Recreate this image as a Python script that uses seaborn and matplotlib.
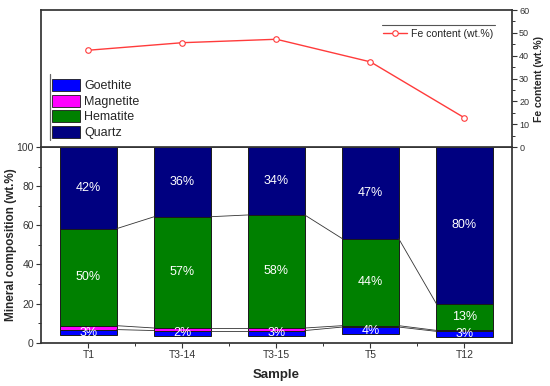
import numpy as np
import pandas as pd
import matplotlib
matplotlib.use("Agg")
import matplotlib.pyplot as plt
import seaborn as sns
from matplotlib.patches import Patch
from matplotlib.lines import Line2D
from matplotlib.ticker import MultipleLocator, FixedLocator

# ---------------- data ----------------
samples = ["T1", "T3-14", "T3-15", "T5", "T12"]
goethite = [3.0, 2.8, 2.8, 3.7, 2.9]
magnetite = [2.0, 1.3, 1.3, 0.7, 0.5]
hematite = [49.6, 56.9, 57.8, 44.5, 13.7]
quartz = [41.7, 35.6, 34.7, 46.8, 80.0]
goethite_labels = ["3%", "2%", "3%", "4%", "3%"]
hematite_labels = ["50%", "57%", "58%", "44%", "13%"]
quartz_labels = ["42%", "36%", "34%", "47%", "80%"]
fe_content = [42.4, 45.7, 47.2, 37.3, 12.8]

minerals = ["Goethite", "Magnetite", "Hematite", "Quartz"]
colors = {"Goethite": "#0000FF", "Magnetite": "#FF00FF",
          "Hematite": "#008000", "Quartz": "#000080"}
red = "#FF3B3B"

df = pd.DataFrame({"Sample": samples, "Goethite": goethite, "Magnetite": magnetite,
                   "Hematite": hematite, "Quartz": quartz, "Fe": fe_content})

sns.set_theme(style="ticks")
plt.rcParams["font.family"] = ["Liberation Sans", "DejaVu Sans"]
plt.rcParams["axes.edgecolor"] = "#333333"
plt.rcParams["xtick.color"] = "#333333"
plt.rcParams["ytick.color"] = "#333333"

fig = plt.figure(figsize=(5.5, 3.86), dpi=100)
L, R = 0.0753, 0.930
ax = fig.add_axes([L, 0.1122, R - L, 0.619 - 0.1122])
ax_top = fig.add_axes([L, 0.619, R - L, 0.974 - 0.619])

# ---------------- stacked bars ----------------
bar_w = 0.6
totals = df[minerals].sum(axis=1).to_numpy()
bottom = 100 - totals
levels = {}
for m in minerals:
    vals = df[m].to_numpy()
    sns.barplot(data=df, x="Sample", y=m, bottom=bottom, color=colors[m],
                saturation=1, width=bar_w, edgecolor="#1a1a1a", linewidth=0.7,
                errorbar=None, ax=ax)
    levels[m] = (bottom.copy(), bottom + vals)
    bottom = bottom + vals

# connecting lines between segment tops
for m in ["Goethite", "Magnetite", "Hematite"]:
    top = levels[m][1]
    for i in range(len(samples) - 1):
        ax.plot([i + bar_w / 2, i + 1 - bar_w / 2], [top[i], top[i + 1]],
                color="#333333", lw=0.6, zorder=1)

# value labels
for m, labs in [("Goethite", goethite_labels), ("Hematite", hematite_labels),
                ("Quartz", quartz_labels)]:
    lo, hi = levels[m]
    for i, t in enumerate(labs):
        ax.text(i, (lo[i] + hi[i]) / 2, t, color="white", fontsize=9,
                ha="center", va="center", zorder=5)

ax.set_xlim(-0.5, len(samples) - 0.5)
ax.set_ylim(0, 100)
ax.yaxis.set_major_locator(MultipleLocator(20))
ax.yaxis.set_minor_locator(MultipleLocator(10))
ax.xaxis.set_minor_locator(FixedLocator(np.arange(len(samples) - 1) + 0.5))
ax.tick_params(axis="both", which="major", direction="out", length=3.5, width=0.8,
               labelsize=7.5, pad=2)
ax.tick_params(axis="both", which="minor", direction="out", length=2, width=0.7)
ax.tick_params(right=False, top=False, which="both")
ax.set_xlabel("Sample", fontsize=9.5, fontweight="bold")
ax.set_ylabel("Mineral composition (wt.%)", fontsize=8.5, fontweight="bold")
ax.yaxis.set_label_coords(-0.051, 0.5)
ax.xaxis.set_label_coords(0.5, -0.135)
ax.xaxis.label.set_va("top")

# ---------------- Fe content line ----------------
sns.pointplot(data=df, x="Sample", y="Fe", color=red, markers="o", linestyles="-",
              errorbar=None, ax=ax_top, markersize=4, linewidth=1,
              markerfacecolor="white", markeredgecolor=red, markeredgewidth=0.8)
ax_top.set_xlim(-0.5, len(samples) - 0.5)
ax_top.set_ylim(0, 60)
ax_top.yaxis.tick_right()
ax_top.yaxis.set_label_position("right")
ax_top.yaxis.set_major_locator(MultipleLocator(10))
ax_top.yaxis.set_minor_locator(MultipleLocator(5))
ax_top.tick_params(axis="y", which="major", direction="out", length=3.5, width=0.8,
                   labelsize=6.5, pad=2, left=False, right=True)
ax_top.tick_params(axis="y", which="minor", direction="out", length=2, width=0.7,
                   left=False, right=True)
ax_top.tick_params(axis="x", which="both", bottom=False, top=False, labelbottom=False)
ax_top.set_xlabel("")
ax_top.set_ylabel("Fe content (wt.%)", fontsize=7.5, fontweight="bold")
ax_top.yaxis.set_label_coords(1.048, 0.5)

# mineral legend
handles = [Patch(facecolor=colors[m], edgecolor="#1a1a1a", linewidth=0.6) for m in minerals]
leg1 = ax_top.legend(handles, minerals, loc="lower left", bbox_to_anchor=(0.0225, 0.06),
                     frameon=False, fontsize=9, handlelength=2.25, handleheight=1.1,
                     labelspacing=0.18, handletextpad=0.35, borderpad=0, borderaxespad=0)
ax_top.add_artist(leg1)
ax_top.plot([0.018, 0.018], [0.05, 0.53], transform=ax_top.transAxes,
            color="#666666", lw=0.9, clip_on=False)

# Fe legend
fe_handle = Line2D([0], [0], color=red, lw=1, marker="o", markersize=4,
                   markerfacecolor="white", markeredgecolor=red, markeredgewidth=0.8)
ax_top.legend([fe_handle], ["Fe content (wt.%)"], loc="center right",
              bbox_to_anchor=(0.962, 0.828), frameon=False, fontsize=7.6,
              handlelength=2.2, handletextpad=0.45, borderpad=0, borderaxespad=0)
ax_top.plot([0.724, 0.965], [0.89, 0.89], transform=ax_top.transAxes,
            color="#555555", lw=0.8)

fig.savefig("out.png", dpi=100)
